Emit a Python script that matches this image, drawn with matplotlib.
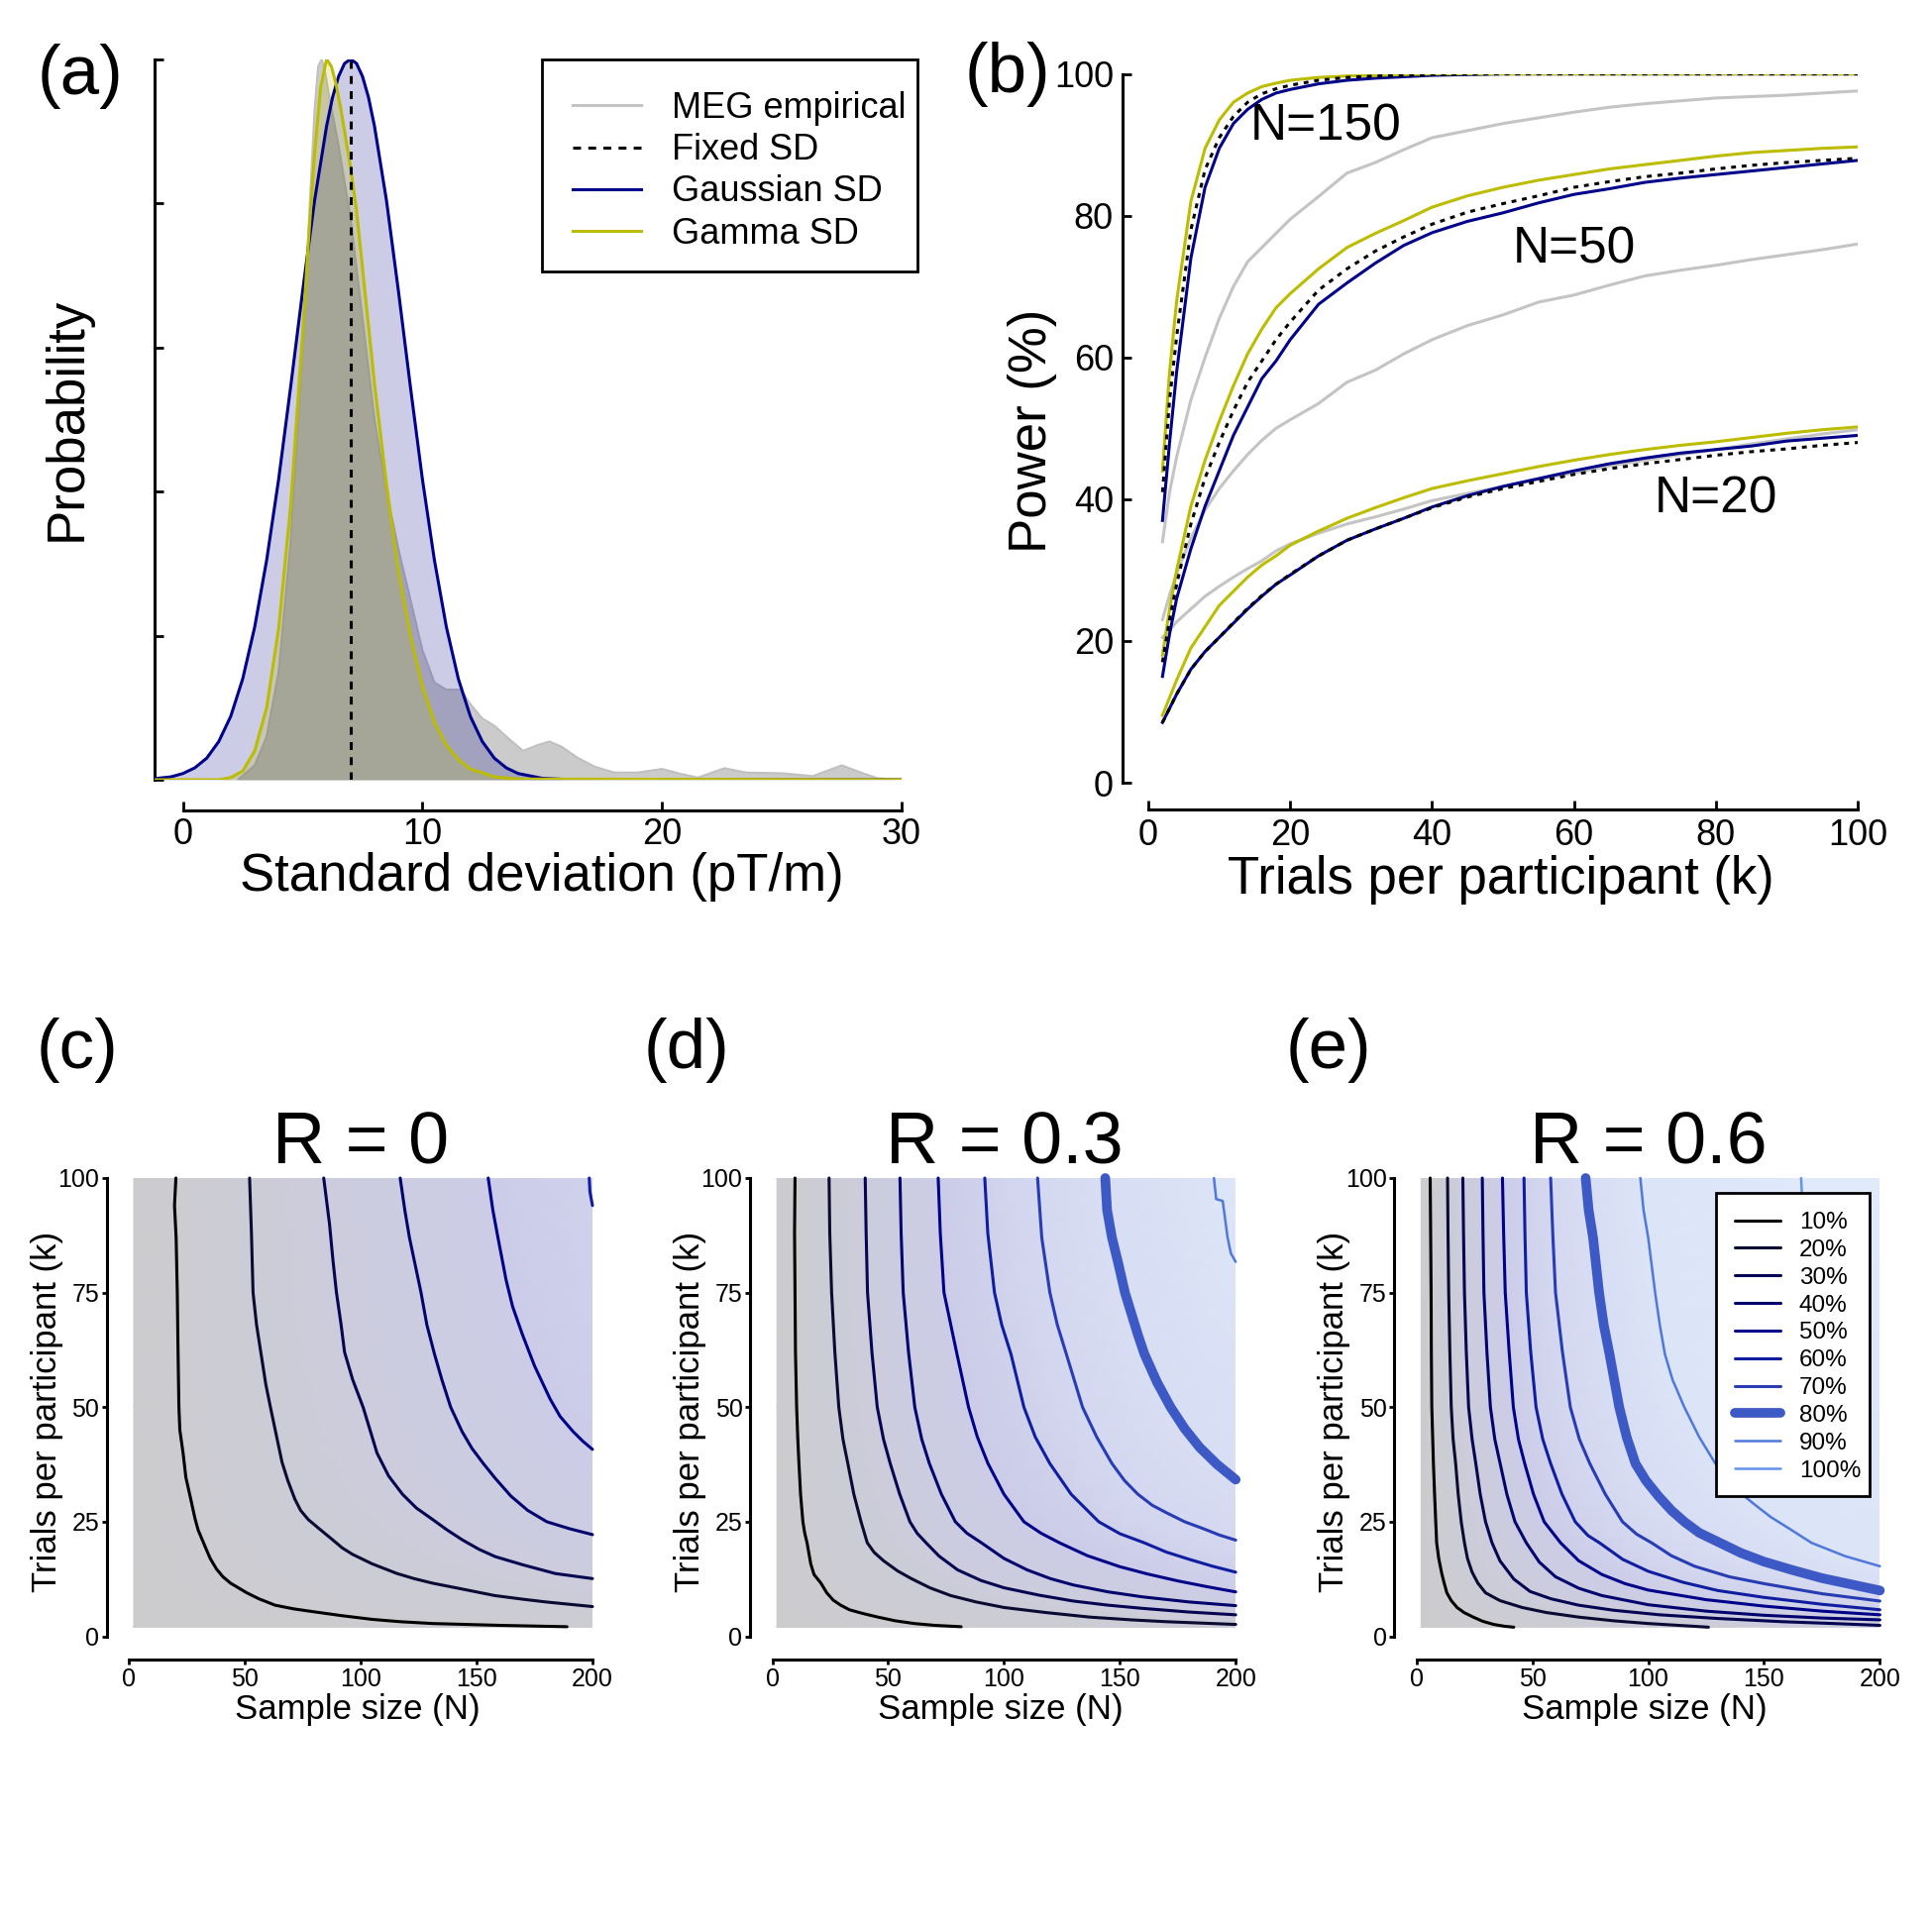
import numpy as np
import matplotlib
matplotlib.use("Agg")
import matplotlib.pyplot as plt
import matplotlib.tri as mtri
from matplotlib.colors import LinearSegmentedColormap, to_rgb
from matplotlib.lines import Line2D
from matplotlib.patches import Rectangle

plt.rcParams['font.family'] = ['Liberation Sans', 'DejaVu Sans']

# ---------------- (a) data: densities (fraction of peak) ----------------
gauss_x = [-1.2, -0.5, 0, 0.5, 1, 1.5, 2, 2.5, 3, 3.5, 4, 4.5, 5, 5.5, 6, 6.25, 6.5, 6.75, 7, 7.25,
           7.5, 7.75, 8, 8.5, 9, 9.5, 10, 10.5, 11, 11.5, 12, 12.5, 13, 13.5, 14, 15, 16, 18, 30]
gauss_y = [.0015, .004, .0086, .0165, .030, .053, .088, .14, .212, .305, .417, .545, .678, .804, .907,
           .947, .976, .994, 1.0, .994, .976, .947, .907, .804, .678, .545, .417, .305, .212, .14,
           .088, .053, .030, .0165, .0086, .002, .0004, 0, 0]
gamma_x = [-1.2, 1.5, 2, 2.5, 3, 3.5, 4, 4.5, 5, 5.25, 5.5, 5.75, 6.0, 6.2, 6.4, 6.6, 6.8, 7, 7.25,
           7.5, 8, 8.5, 9, 9.5, 10, 10.5, 11, 11.5, 12, 13, 14, 30]
gamma_y = [0, 0, .003, .012, .04, .1, .21, .38, .62, .75, .87, .96, 1.0, .99, .965, .93, .89, .85,
           .79, .71, .55, .41, .29, .2, .13, .08, .048, .028, .015, .004, .001, 0]
emp_x = [2.3, 3, 3.5, 4, 4.5, 5, 5.3, 5.5, 5.65, 5.8, 5.95, 6.1, 6.5, 7, 7.5, 8, 8.5, 9, 9.5, 10,
         10.5, 11, 11.6, 12, 12.5, 13, 13.5, 14.2, 14.8, 15.3, 15.8, 16.5, 17.2, 18, 19, 20, 20.8,
         21.5, 22.6, 23.5, 25, 26.3, 27.5, 28.3, 29, 30]
emp_y = [0, .02, .06, .15, .33, .6, .8, .93, .99, 1.0, .98, .95, .88, .78, .64, .5, .4, .32, .25, .18,
         .135, .125, .125, .105, .085, .075, .06, .04, .048, .053, .046, .03, .018, .01, .01, .015,
         .008, .003, .016, .01, .009, .005, .02, .01, .002, 0]
fixed_sd = 7.0

# ---------------- (b) data: power (%) vs trials ----------------
k_trials = [2, 3, 4, 6, 8, 10, 12, 14, 16, 18, 20, 24, 28, 32, 36, 40, 45, 50, 55, 60, 65, 70, 75,
            80, 85, 90, 95, 100]
p150_gamma = [44, 58, 68, 82, 89.5, 93.5, 96, 97.3, 98.2, 98.7, 99.1, 99.5, 99.7, 99.8, 99.9, 100,
              100, 100, 100, 100, 100, 100, 100, 100, 100, 100, 100, 100]
p150_fixed = [41, 54, 63, 78, 86.5, 91, 94, 96, 97.2, 97.9, 98.4, 99.1, 99.5, 99.7, 99.8, 99.9,
              100, 100, 100, 100, 100, 100, 100, 100, 100, 100, 100, 100]
p150_gauss = [37, 48, 58, 74, 84, 89.5, 93, 95, 96.4, 97.3, 97.8, 98.6, 99.1, 99.4, 99.6, 99.8,
              99.9, 100, 100, 100, 100, 100, 100, 100, 100, 100, 100, 100]
p150_emp = [34, 41, 46, 54, 60, 65.5, 70, 73.5, 75.5, 77.5, 79.5, 82.7, 86, 87.5, 89.3, 91, 92, 93,
            93.8, 94.6, 95.3, 95.8, 96.2, 96.6, 96.8, 97, 97.3, 97.6]
p50_gamma = [18, 24.5, 30, 39, 45.5, 51, 56, 60.5, 64, 67, 69, 72.5, 75.5, 77.5, 79.3, 81.2, 82.8,
             84, 85, 85.8, 86.6, 87.2, 87.8, 88.4, 88.9, 89.2, 89.5, 89.7]
p50_fixed = [17, 23, 28, 36.5, 43, 48, 52.5, 56.5, 59.5, 62.5, 65, 69.5, 72.5, 75, 77, 78.8, 80.5,
             81.7, 82.8, 84, 84.8, 85.5, 86, 86.6, 87.1, 87.5, 87.8, 88.1]
p50_gauss = [15, 21, 26, 33, 39, 44, 49, 53, 57, 59.5, 62.5, 67.5, 70.5, 73.3, 75.8, 77.6, 79.2,
             80.4, 81.8, 83, 83.8, 84.7, 85.3, 85.8, 86.3, 86.8, 87.3, 87.8]
p50_emp = [23, 26.5, 29.5, 34.5, 38.5, 41.5, 44, 46.3, 48.3, 50, 51.2, 53.5, 56.5, 58.2, 60.5, 62.5,
           64.5, 66, 67.8, 68.8, 70.2, 71.5, 72.3, 73, 73.8, 74.5, 75.2, 76]
p20_gamma = [9.5, 12, 14.5, 19, 22, 25, 27, 29, 30.7, 32, 33.5, 35.5, 37.3, 38.8, 40.2, 41.5, 42.6,
             43.6, 44.6, 45.5, 46.3, 47, 47.6, 48.1, 48.7, 49.3, 49.8, 50.2]
p20_fixed = [8.5, 10.5, 12.5, 16, 18.5, 20.5, 22.6, 24.6, 26.4, 28, 29.4, 32, 34.2, 35.8, 37.3, 38.8,
             40.3, 41.5, 42.5, 43.5, 44.3, 45, 45.6, 46.2, 46.7, 47.1, 47.6, 48]
p20_gauss = [8.5, 10.5, 12.5, 16, 18.5, 20.5, 22.5, 24.5, 26.3, 28, 29.3, 32, 34.2, 35.8, 37.3, 38.9,
             40.5, 41.8, 42.9, 44, 45, 45.8, 46.5, 47, 47.5, 48.2, 48.6, 49]
p20_emp = [20.5, 21.5, 22.7, 24.5, 26.3, 27.7, 29, 30.2, 31.3, 32.7, 33.7, 35.2, 36.5, 37.5, 38.6,
           39.8, 40.8, 41.8, 42.8, 43.7, 44.7, 45.5, 46.3, 47, 47.8, 48.5, 49.2, 49.8]

# ---------------- (c)-(e) data: iso-power lines as (N, k) points ----------------
power_levels = [10, 20, 30, 40, 50, 60, 70, 80, 90, 100]
iso_R0 = {
    10: [(20.2, 100), (19.6, 94), (20.3, 87), (20.8, 75), (21.1, 63), (21.5, 50), (21.9, 45),
         (23.3, 40), (24.5, 34.7), (26.8, 29.5), (28.4, 25.8), (29.8, 23.2), (33.3, 19), (35, 17),
         (37.7, 14.7), (40.5, 13), (43.8, 11.6), (50.8, 9.5), (56, 8.2), (63, 6.8), (71, 6),
         (80.6, 5.3), (92, 4.5), (105, 3.7), (117, 3.2), (131, 2.8), (160, 2.4), (189, 2.1)],
    20: [(52, 100), (52.8, 88), (53.5, 75), (55, 68), (57, 61.5), (59, 55), (61, 50), (63.5, 44),
         (66, 38), (68.5, 34), (71.5, 30), (74, 27.5), (77.3, 25.5), (82, 23.5), (88, 21),
         (92, 19.3), (96.4, 17.9), (105, 15.8), (115.7, 13.7), (123, 12.6), (131, 11.6),
         (145, 10.2), (157.8, 8.9), (170, 8.1), (180, 7.5), (190, 7), (200, 6.5)],
    30: [(84, 100), (86.5, 90), (88, 82), (89.5, 75), (91.5, 68), (93, 62), (96.5, 56), (101, 50),
         (104, 45), (107, 40), (112, 35), (118, 31), (124, 28), (131, 25.5), (137, 23.3),
         (144, 21), (151, 19), (158, 17.4), (170, 15.6), (184, 13.7), (200, 12.6)],
    40: [(117, 100), (119, 93), (121, 87), (123.5, 81), (126, 75), (128.5, 68), (131.8, 61.6),
         (135, 56), (138.8, 50), (143.7, 44.7), (148, 41), (152.9, 37.7), (158, 34.5),
         (164.8, 30.6), (172, 27.5), (180.3, 25), (190, 23.5), (200, 22.2)],
    50: [(155, 100), (157, 93), (159.2, 87), (162.7, 77.8), (165.5, 72), (169.8, 65.8),
         (175, 59), (181.7, 51.8), (186, 48), (191.6, 44.7), (196, 42.5), (200, 40.8)],
    60: [(198.6, 100), (198.9, 97), (200, 94)],
}
iso_R03 = {
    10: [(9.8, 100), (9.6, 88), (9.8, 75), (10, 62), (10.5, 50), (11, 43), (11.5, 37.7),
         (12.2, 31), (13.2, 25), (14, 22.5), (15, 20.4), (16.6, 15.8), (18, 13.5), (21, 11.6),
         (23.5, 9.5), (26.3, 7.9), (29.5, 6.8), (33.3, 5.8), (39, 5), (45.6, 4.2), (53, 3.4),
         (61.3, 2.8), (70, 2.4), (81.5, 2.1)],
    20: [(24.5, 100), (24.8, 88), (25.6, 75), (27, 62), (28.7, 50), (30.5, 43), (32.6, 37.7),
         (35.2, 31), (38.3, 25), (41, 20.4), (44, 18.3), (48, 16.5), (54, 14.3), (60, 12.6),
         (68, 10.6), (77, 8.9), (88, 7.5), (100, 6.3), (118, 5.2), (137, 4.2), (155, 3.6),
         (170, 3.2), (185, 2.9), (200, 2.6)],
    30: [(40.1, 100), (40.5, 88), (41.1, 75), (43, 62), (45.3, 50), (48, 43), (50.9, 37.7),
         (55, 31), (59.4, 25), (62.5, 22.5), (66.4, 20.4), (72, 17.5), (80, 14.5), (90, 12.2),
         (100, 10.6), (115, 9), (130, 7.7), (145, 6.8), (160, 6.1), (180, 5.3), (200, 4.7)],
    40: [(55.1, 100), (55.6, 88), (56.5, 75), (58.8, 62), (61.5, 50), (64.5, 43), (67.8, 37.7),
         (73, 31), (79, 25), (84, 22.5), (90.3, 20.4), (100, 17), (110, 14.5), (120, 12.6),
         (130, 11.2), (145, 9.7), (160, 8.6), (180, 7.5), (200, 6.7)],
    50: [(71.6, 100), (72.5, 88), (74.1, 75), (79.7, 61.6), (84.7, 50), (88.5, 43.5),
         (93.1, 37.7), (100, 31), (108.6, 25), (116, 22.5), (124, 20.4), (136, 17.6), (150, 15.2),
         (162, 13.6), (175, 12.1), (188, 10.8), (200, 9.7)],
    60: [(91.7, 100), (93, 88), (95.9, 75), (99, 68), (103, 61.6), (108.6, 50), (113.5, 43.5),
         (119.8, 37.7), (129, 31), (140.9, 25), (150, 22.4), (160.6, 20.4), (170, 18.4),
         (180, 16.8), (190, 15.3), (200, 14)],
    70: [(114.5, 100), (116.3, 87), (119.8, 75), (123, 68), (126.9, 61.6), (133.9, 50),
         (140, 43.5), (146.6, 37.7), (152, 34), (157.8, 31), (164, 28.6), (170, 27), (178, 25),
         (186, 23.5), (193, 22.1), (200, 21)],
    80: [(143.7, 100), (144.5, 93), (146.6, 87), (149.5, 81), (152.2, 75), (157.8, 65.8),
         (160.6, 61.6), (166, 55.5), (171.9, 50), (178, 45.3), (184.5, 41.2), (192, 37.5),
         (200, 34.2)],
    90: [(190.6, 100), (191.6, 95.4), (194.4, 95), (196.5, 87), (197.9, 83.6), (200, 81.7)],
}
iso_R06 = {
    10: [(5.9, 100), (6.1, 88), (6.3, 75), (6.4, 62), (6.6, 50), (7, 43), (7.3, 37.7), (7.8, 31),
         (8.3, 25), (8.7, 20.4), (9.6, 17), (10.9, 13.7), (12, 11.5), (13.1, 9.5), (15, 7.8),
         (17.5, 6.3), (20.5, 5.2), (24.5, 4.2), (28.5, 3.3), (33.3, 2.6), (38, 2.2), (42, 2)],
    20: [(13.4, 100), (13.6, 88), (13.9, 75), (14.4, 62), (15, 50), (15.8, 43), (16.9, 37.7),
         (18, 31), (19.3, 25), (20.7, 20.4), (22, 17), (24, 14), (26.5, 11.6), (29.8, 9.5),
         (36, 7.8), (45.6, 6.3), (56, 5.2), (70, 4.2), (85, 3.4), (100, 2.8), (113, 2.4), (126, 2)],
    30: [(20, 100), (20.3, 88), (20.7, 75), (21.5, 62), (22.5, 50), (24, 43), (25.6, 37.7),
         (27.5, 31), (29.8, 25), (32.6, 20.4), (36, 16.5), (42, 12.5), (49, 9.8), (58, 8.2),
         (70, 6.8), (85, 5.7), (105, 4.7), (130, 3.9), (158, 3.2), (180, 2.8), (200, 2.4)],
    40: [(28.4, 100), (28.7, 88), (29.1, 75), (30.4, 62), (31.9, 50), (33.8, 43), (36.1, 37.7),
         (39, 31), (42.5, 25), (47.4, 20.4), (53, 16.2), (60, 13), (70, 10.5), (80, 8.9),
         (100, 6.9), (125, 5.5), (150, 4.6), (175, 4), (200, 3.6)],
    50: [(37.1, 100), (37.6, 88), (38.3, 75), (40, 62), (41.8, 50), (44, 43), (46.7, 37.7),
         (50.5, 31), (55.1, 25), (62.2, 20.4), (70, 16.5), (80, 13.5), (90, 11.5), (100, 10.1),
         (125, 8), (150, 6.6), (175, 5.5), (200, 4.7)],
    60: [(46.4, 100), (46.8, 88), (47.4, 75), (49.3, 62), (51.6, 50), (54.5, 43), (57.9, 37.7),
         (62.8, 31), (68.5, 25), (74, 22), (79, 20.4), (89, 16.8), (100, 14.2), (115, 11.8),
         (130, 10), (150, 8.5), (175, 7), (200, 5.8)],
    70: [(57.9, 100), (58.8, 88), (60, 75), (63, 62), (66.4, 50), (70.3, 43), (74.8, 37.7),
         (81.5, 31), (88.9, 25), (95, 22.3), (101.5, 20.4), (110, 17.6), (120, 15.3), (135, 13),
         (150, 11.5), (175, 9.3), (200, 7.7)],
    80: [(73, 100), (74.3, 93), (76.2, 87), (78.8, 75), (80.8, 68), (83.3, 61.6), (87.5, 50),
         (90.7, 43.5), (94.5, 37.7), (99, 34), (104.4, 30.6), (110, 27.5), (115.6, 25),
         (122, 22.6), (131, 20.4), (140, 18.2), (150, 16.3), (162, 14.5), (175, 12.7),
         (188, 11.3), (200, 10)],
    90: [(96.6, 100), (98, 93), (100, 87), (103, 75), (105, 68), (107.2, 61.6), (110.5, 56),
         (115.6, 50), (122, 43.5), (129, 37.7), (138, 32), (146.6, 28.5), (153, 26),
         (160.6, 23.6), (170.5, 20.4), (185, 17.5), (200, 15.3)],
    100: [(166, 100), (166.3, 97)],
}
# estimated power at the edges of the (N, k) domain (N, k, power%)
edge_R0 = [(2, 2, 2), (2, 50, 5), (2, 100, 6), (100, 2, 8), (200, 2, 10.5), (200, 100, 62)]
edge_R03 = [(2, 2, 3), (2, 50, 6), (2, 100, 6.5), (200, 2, 19), (200, 100, 95)]
edge_R06 = [(2, 2, 4), (2, 50, 8), (2, 100, 8.5), (200, 2, 28), (200, 100, 100)]
panel_titles = ['R = 0', 'R = 0.3', 'R = 0.6']

# ---------------- styles ----------------
NAVY = '#00008b'
YEL = '#bcbc00'
GRAY = '#c4c4c4'
level_colors = ['#000000', '#0a0a32', '#050552', '#03036e', '#000088', '#0f1ea0', '#283cb4',
                '#3c59c6', '#5077da', '#6495ed']
level_widths = [2.2, 2.2, 2.2, 2.2, 2.2, 2.2, 2.2, 7.0, 1.8, 1.8]

base = [to_rgb('#000000'), to_rgb('#00008b'), to_rgb('#6495ed')]
bg_cols = [tuple(0.8 + 0.2 * c for c in col) for col in base]
bg_cmap = LinearSegmentedColormap.from_list('bg', list(zip([0, 0.5, 1.0], bg_cols)))

W = 1950.0
fig = plt.figure(figsize=(19.5, 19.5), dpi=100)
PX = 72 / 100.0  # points per pixel


def px(v):
    return v * PX


def style(ax, xb, yb, offx, offy, tdir, tlen, fs, pad):
    for s in ['top', 'right']:
        ax.spines[s].set_visible(False)
    ax.spines['left'].set_position(('outward', px(offx)))
    ax.spines['bottom'].set_position(('outward', px(offy)))
    ax.spines['left'].set_bounds(*yb)
    ax.spines['bottom'].set_bounds(*xb)
    for s in ['left', 'bottom']:
        ax.spines[s].set_linewidth(2.2)
    ax.tick_params(direction=tdir, length=px(tlen), width=2.0, labelsize=fs, pad=pad)


def boxed_legend(ax, handles, labels, fs, x_handle, y_top, hl, htp, ls, box):
    lg = ax.legend(handles, labels, fontsize=fs, loc='upper left',
                   bbox_to_anchor=(x_handle / W, 1 - y_top / W), bbox_transform=fig.transFigure,
                   borderaxespad=0, borderpad=0, frameon=False, handlelength=hl,
                   handletextpad=htp, labelspacing=ls)
    lg.set_zorder(10)
    x0, y0, x1, y1 = box
    rect = Rectangle((x0 / W, 1 - y1 / W), (x1 - x0) / W, (y1 - y0) / W, transform=fig.transFigure,
                     facecolor='white', edgecolor='black', lw=2.0, zorder=9, clip_on=False)
    ax.add_patch(rect)
    return lg


# ---------------- (a) ----------------
axa = fig.add_axes([155.5 / W, 1 - 787 / W, 754.5 / W, 727.3 / W])
axa.fill_between(emp_x, emp_y, 0, color='#cbcbcb', lw=0, zorder=1)
axa.plot(emp_x, emp_y, color='#c0c0c0', lw=1.5, zorder=1.5)
axa.fill_between(gauss_x, gauss_y, 0, color=NAVY, alpha=0.2, lw=0, zorder=2)
axa.fill_between(gamma_x, gamma_y, 0, color='#b5b500', alpha=0.2, lw=0, zorder=3)
axa.plot(gauss_x, gauss_y, color=NAVY, lw=2.2, zorder=4)
axa.plot(gamma_x, gamma_y, color=YEL, lw=2.2, zorder=4)
axa.plot([fixed_sd, fixed_sd], [0, max(gauss_y)], color='black', lw=2.2, dashes=(2.6, 2.4), zorder=5)
axa.set_xlim(-1.2, 30)
axa.set_ylim(0, 1.0)
axa.set_xticks([0, 10, 20, 30])
axa.set_yticks(np.linspace(0, 1, 6))
axa.set_yticklabels([])
style(axa, (0, 30), (0, 1), 0, 31, 'in', 9, 26, 5.0)
axa.set_xlabel('Standard deviation (pT/m)', fontsize=38)
axa.xaxis.set_label_coords(0.5189, -0.1354)
axa.xaxis.label.set_va('center')
axa.set_ylabel('Probability', fontsize=38)
axa.yaxis.set_label_coords(-0.116, 0.5005)
axa.yaxis.label.set_va('center')
handles = [Line2D([], [], color=GRAY, lw=2.2), Line2D([], [], color='black', lw=2.2, dashes=(2.6, 2.4)),
           Line2D([], [], color=NAVY, lw=2.2), Line2D([], [], color=YEL, lw=2.2)]
boxed_legend(axa, handles, ['MEG empirical', 'Fixed SD', 'Gaussian SD', 'Gamma SD'], 26,
             578, 92, 1.92, 0.86, 0.2, (547, 60, 926, 274))

# ---------------- (b) ----------------
axb = fig.add_axes([1159 / W, 1 - 790 / W, 716 / W, 715.4 / W])
series = [(p20_emp, p20_gauss, p20_gamma, p20_fixed), (p50_emp, p50_gauss, p50_gamma, p50_fixed),
          (p150_emp, p150_gauss, p150_gamma, p150_fixed)]
for emp, gau, gam, fix in series:
    axb.plot(k_trials, emp, color=GRAY, lw=2.2, zorder=2)
    axb.plot(k_trials, gau, color=NAVY, lw=2.2, zorder=3)
    axb.plot(k_trials, gam, color=YEL, lw=2.2, zorder=4)
    axb.plot(k_trials, fix, color='black', lw=2.2, dashes=(1.6, 1.9), zorder=5)
axb.set_xlim(0, 100)
axb.set_ylim(0, 100)
axb.set_xticks([0, 20, 40, 60, 80, 100])
axb.set_yticks([0, 20, 40, 60, 80, 100])
style(axb, (0, 100), (0, 100), 26, 27, 'in', 9, 26, 6.5)
axb.set_xlabel('Trials per participant (k)', fontsize=38)
axb.xaxis.set_label_coords(0.4972, -0.137)
axb.xaxis.label.set_va('center')
axb.set_ylabel('Power (%)', fontsize=38)
axb.yaxis.set_label_coords(-0.1634, 0.4962)
axb.yaxis.label.set_va('center')
axb.text(25, 92.6, 'N=150', fontsize=37, ha='center', va='center')
axb.text(60, 75.2, 'N=50', fontsize=37, ha='center', va='center')
axb.text(80, 40, 'N=20', fontsize=37, ha='center', va='center')

# ---------------- (c)-(e) ----------------
lefts = [130.3, 779.5, 1429.7]
for i, (iso, edge) in enumerate([(iso_R0, edge_R0), (iso_R03, edge_R03), (iso_R06, edge_R06)]):
    ax = fig.add_axes([lefts[i] / W, 1 - 1651.6 / W, 467.7 / W, 462.6 / W])
    nn, kk, pp = [], [], []
    for lev, pts in iso.items():
        for n, k in pts:
            nn.append(n); kk.append(k); pp.append(lev)
    for n, k, p in edge:
        nn.append(n); kk.append(k); pp.append(p)
    tri = mtri.Triangulation(nn, kk)
    ax.tripcolor(tri, pp, shading='gouraud', cmap=bg_cmap, vmin=0, vmax=100, zorder=0,
                 rasterized=True)
    for j, lev in enumerate(power_levels):
        if lev in iso:
            arr = np.array(iso[lev])
            ax.plot(arr[:, 0], arr[:, 1], color=level_colors[j], lw=level_widths[j],
                    solid_capstyle='round', solid_joinstyle='round', zorder=3, clip_on=False)
    ax.set_xlim(2, 200)
    ax.set_ylim(2, 100)
    ax.set_xticks([0, 50, 100, 150, 200])
    ax.set_yticks([0, 25, 50, 75, 100])
    style(ax, (0, 200), (0, 100), 22.3, 23.4, 'out', 5, 18, 2.0)
    ax.set_xlabel('Sample size (N)', fontsize=25)
    ax.xaxis.set_label_coords(0.4924, -0.1608)
    ax.xaxis.label.set_va('center')
    ax.set_ylabel('Trials per participant (k)', fontsize=25)
    ax.yaxis.set_label_coords(-0.1781, 0.4898)
    ax.yaxis.label.set_va('center')
    ax.set_title(panel_titles[i], fontsize=53, y=1.0303, va='baseline', pad=0)
    if i == 2:
        hs = [Line2D([], [], color=level_colors[j], lw=level_widths[j], solid_capstyle='round')
              for j in range(len(power_levels))]
        boxed_legend(ax, hs, ['%d%%' % l for l in power_levels], 17.5, 1751, 1223, 1.89, 0.77,
                     0.24, (1732, 1204, 1887, 1510))

# panel labels
for lab, x, y in [('(a)', 81, 77), ('(b)', 1017, 75), ('(c)', 78, 1060), ('(d)', 693, 1060),
                  ('(e)', 1341, 1060)]:
    fig.text(x / W, 1 - y / W, lab, fontsize=51, ha='center', va='center')

fig.savefig('out.png', dpi=100)
